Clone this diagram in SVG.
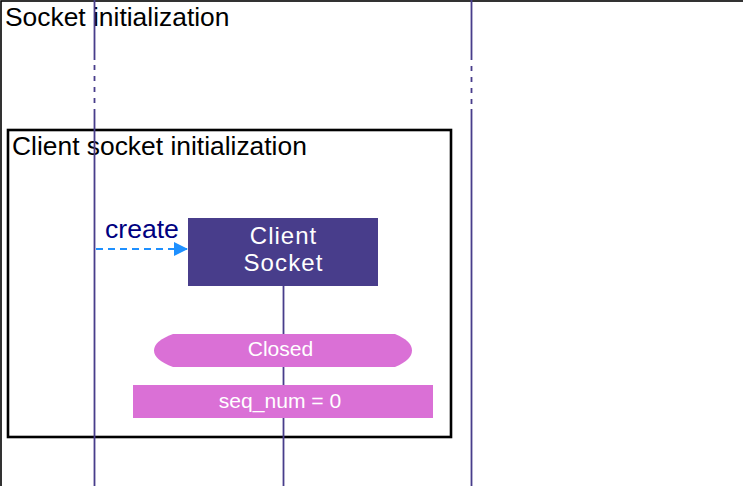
<svg xmlns="http://www.w3.org/2000/svg" width="743" height="486" viewBox="0 0 743 486">
<style>
.t{font-family:"Liberation Sans",Arial,sans-serif}
.life{stroke:#483D8B;stroke-width:1.8;fill:none}
.frame{fill:none;stroke:#000}
.state{fill:#DA70D6}
.wt{fill:#fff;text-anchor:middle}
</style>
<defs>
<marker id="ah" viewBox="0 0 10 10" refX="10" refY="5" markerWidth="16" markerHeight="14" markerUnits="userSpaceOnUse" orient="auto">
<path d="M0,0 L10,5 L0,10 Z" fill="#1E90FF"/>
</marker>
</defs>
<rect width="743" height="486" fill="#fff"/>
<g id="frame-socket-init">
<rect class="frame" x="1" y="1" width="800" height="600" stroke-width="1.6"/>
<text class="t" x="5" y="26" font-size="26.4">Socket initialization</text>
</g>
<g id="frame-client-init">
<rect class="frame" x="8" y="130" width="443" height="307" stroke-width="2.6"/>
<text class="t" x="12" y="155" font-size="26.4">Client socket initialization</text>
</g>
<g id="lifelines">
<g id="lifeline-left">
<path class="life" d="M94.5,0 V60 M94.5,109 V486"/>
<path class="life" d="M94.5,65 V104" stroke-dasharray="5 6"/>
</g>
<g id="lifeline-right">
<path class="life" d="M471.5,0 V60 M471.5,109 V486"/>
<path class="life" d="M471.5,66 V104" stroke-dasharray="5 6"/>
</g>
<path id="lifeline-client" class="life" d="M283.5,286 V486"/>
</g>
<g id="connectors">
<line x1="96" y1="249" x2="188" y2="249" stroke="#1E90FF" stroke-width="2" stroke-dasharray="7 5" marker-end="url(#ah)"/>
<text class="t" x="105" y="238" font-size="26.6" fill="#000080">create</text>
</g>
<g id="client-socket">
<rect x="188" y="218" width="190" height="68" fill="#483D8B"/>
<text class="t wt" x="283.5" y="243.5" font-size="24" letter-spacing="1">Client</text>
<text class="t wt" x="283.5" y="271" font-size="24" letter-spacing="1.1">Socket</text>
</g>
<g id="state-closed">
<path class="state" d="M173,334 H395 Q412,341 412,350.5 Q412,360 395,367 H173 Q154,360 154,350.5 Q154,341 173,334 Z"/>
<text class="t wt" x="280.5" y="356" font-size="21.1">Closed</text>
</g>
<g id="note-seq">
<rect class="state" x="133" y="385" width="300" height="33"/>
<text class="t wt" x="280" y="408" font-size="21.1">seq_num = 0</text>
</g>
</svg>
